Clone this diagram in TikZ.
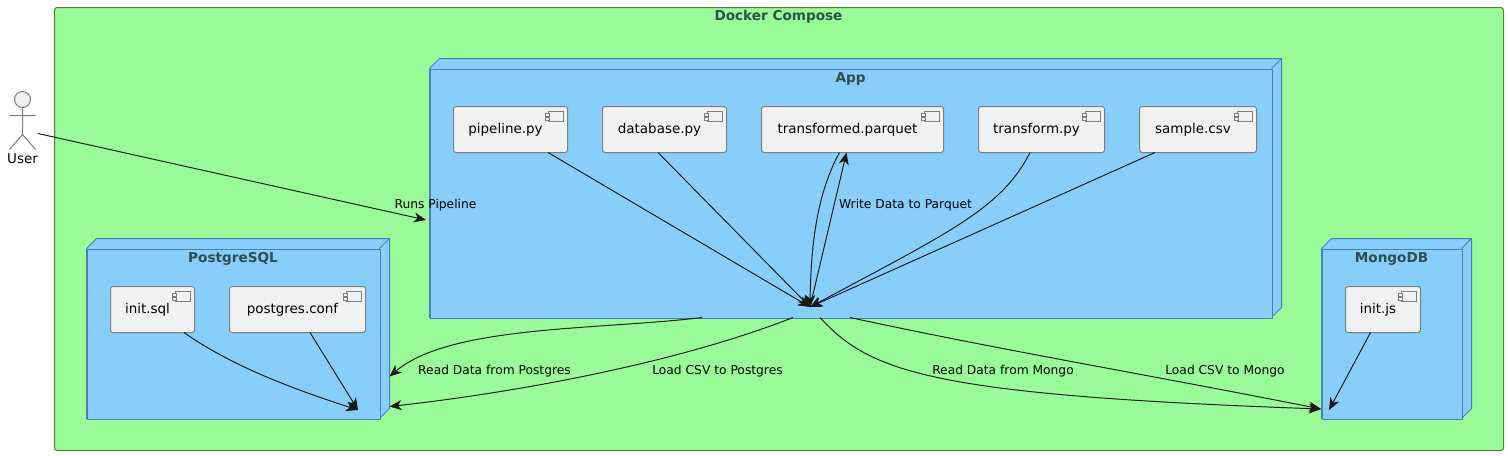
\documentclass[tikz,border=0pt]{standalone}
\usepackage{fontspec}
\setmainfont{DejaVu Sans}
\usetikzlibrary{arrows.meta}
\definecolor{framegreen}{HTML}{98FB98}
\definecolor{frameline}{HTML}{5B7A35}
\definecolor{nodeblue}{HTML}{87CEFA}
\definecolor{nodeline}{HTML}{4A7FBE}
\definecolor{titlecol}{HTML}{2F4F4F}
\definecolor{compfill}{HTML}{F1F1F1}
\definecolor{compline}{HTML}{7F7F7F}
\definecolor{edgecol}{HTML}{181818}
\newlength{\pxu}\setlength{\pxu}{0.75pt}
\tikzset{
  x=0.75pt,y=-0.75pt,
  titletext/.style={text=titlecol,font=\fontsize{10.2}{12}\bfseries\selectfont,inner sep=0pt},
  comptext/.style={font=\fontsize{10.1}{12}\selectfont},
  edgelabel/.style={text=black,font=\fontsize{9.2}{11}\selectfont,inner sep=0pt},
  compbox/.style={draw=compline,fill=compfill,line width=0.75pt,rounded corners=1.9pt,inner sep=0pt,minimum height=34.5pt,comptext,text=black},
  compicon/.style={draw=compline,fill=compfill,line width=0.6pt},
  nodeface/.style={draw=nodeline,fill=nodeblue,line width=0.75pt,line join=round},
  flow/.style={draw=edgecol,line width=0.72pt,-{Stealth[length=9pt,width=7.5pt,inset=2.6pt]}},
  actorline/.style={draw=compline,line width=0.75pt}
}
% \cbox{name}{x1}{x2}{label}
\newcommand{\cbox}[4]{%
  \pgfmathsetmacro{\cw}{(#3-#2)*0.75}%
  \node[compbox,minimum width=\cw pt] (#1) at ({(#2+#3)/2},129.5) {\raisebox{-3.2pt}{#4\kern 7.5pt}};
  \compglyph{#3}{106.7}}
\newcommand{\cboxlow}[4]{%
  \pgfmathsetmacro{\cw}{(#3-#2)*0.75}%
  \node[compbox,minimum width=\cw pt] (#1) at ({(#2+#3)/2},309.5) {\raisebox{-3.2pt}{#4\kern 7.5pt}};
  \compglyph{#3}{286.7}}
\newcommand{\compglyph}[2]{%
  \draw[compicon] ({#1-19.5},{#2+5}) rectangle ({#1-4.5},{#2+15});
  \draw[compicon] ({#1-22},{#2+7}) rectangle ({#1-18},{#2+9.5});
  \draw[compicon] ({#1-22},{#2+11}) rectangle ({#1-18},{#2+13.5});}
% \depnode{name}{x1}{y1}{x2}{y2}
\newcommand{\depnode}[5]{%
  \path[nodeface] (#2,#3) -- ({#2+10},{#3-10}) -- ({#4+10},{#3-10}) -- ({#4+10},{#5-10}) -- (#4,#5) -- (#2,#5) -- cycle;
  \draw[nodeline,line width=0.75pt,line join=round] (#4,#3) -- ({#4+10},{#3-10});
  \node[nodeface,anchor=north west,inner sep=0pt,minimum width={(#4-#2)*0.75pt},minimum height={(#5-#3)*0.75pt}] (#1) at (#2,#3) {};}
\begin{document}
\begin{tikzpicture}
\useasboundingbox (0,0) rectangle (1508,455);
\fill[white] (0,0) rectangle (1508,455);
% frame
\draw[fill=framegreen,draw=frameline,line width=0.75pt,rounded corners=1.9pt] (54.5,7.5) rectangle (1503.5,450.5);
\node[titletext] (composetitle) at (778.5,17) {Docker Compose};
% deployment nodes
\depnode{app}{429.5}{68.5}{1271.5}{317.5}
\node[titletext] (apptitle) at (850.5,79) {App};
\depnode{pg}{86.5}{248.5}{379.5}{418.5}
\node[titletext] (pgtitle) at (233,259) {PostgreSQL};
\depnode{mongo}{1321.5}{248.5}{1461.5}{418.5}
\node[titletext] (mongotitle) at (1391.5,259) {MongoDB};
% components
\cbox{pipeline}{453.5}{567.5}{pipeline.py}
\cbox{database}{602.5}{726.5}{database.py}
\cbox{parquet}{761.5}{943.5}{transformed.parquet}
\cbox{transform}{978.5}{1104.5}{transform.py}
\cbox{sample}{1139.5}{1256.5}{sample.csv}
\cboxlow{initsql}{110.5}{194.5}{init.sql}
\cboxlow{pgconf}{229.5}{365.5}{postgres.conf}
\cboxlow{initjs}{1345.5}{1420.5}{init.js}
% actor
\coordinate (actorhead) at (22.5,99.5);
\draw[actorline,fill=compfill] (actorhead) circle[radius=8];
\draw[actorline] (22.5,107.5) -- (22.5,134.5) (9.5,115.5) -- (35.5,115.5) (9.5,149.5) -- (22.5,134.5) -- (35.5,149.5);
\node[comptext,inner sep=0pt] (user) at (22.5,159) {User};
% connector end points
\coordinate (actorout) at (38,133.5);
\coordinate (appin) at (426,220);
\coordinate (hub) at (810,307);
\coordinate (pgread) at (389.5,376.5);
\coordinate (pgload) at (389.5,406.5);
\coordinate (pgsink) at (358,410);
\coordinate (mongoin) at (1321,409);
\coordinate (mongosink) at (1329,410);
% connectors
\draw[flow] (actorout) -- (appin);
\draw[flow] (548,152.5) -- (hub);
\draw[flow] (658,152.5) -- (hub);
\draw[flow] (839.5,152.5) .. controls (818,192) and (811,240) .. (hub);
\draw[flow] (hub) -- (846.5,152.5);
\draw[flow] (1030,152.5) .. controls (1002,208) and (950,232) .. (hub);
\draw[flow] (1155,152.5) -- (hub);
\draw[flow] (702,317.5) .. controls (600,330) and (450,325) .. (pgread);
\draw[flow] (793,317.5) .. controls (680,362) and (520,392) .. (pgload);
\draw[flow] (820,317.5) .. controls (870,372) and (930,395) .. (mongoin);
\draw[flow] (850,317.5) .. controls (1000,350) and (1150,375) .. (mongoin);
\draw[flow] (184,332.5) .. controls (230,365) and (290,388) .. (pgsink);
\draw[flow] (310,332.5) -- (pgsink);
\draw[flow] (1370.5,332.5) -- (mongosink);
% labels
\node[edgelabel] (lruns) at (435.5,205.5) {Runs Pipeline};
\node[edgelabel] (lwrite) at (905.5,205.5) {Write Data to Parquet};
\node[edgelabel] (lpgread) at (494.5,371.5) {Read Data from Postgres};
\node[edgelabel] (lpgload) at (717.5,371.5) {Load CSV to Postgres};
\node[edgelabel] (lmread) at (1003,371.5) {Read Data from Mongo};
\node[edgelabel] (lmload) at (1225,371.5) {Load CSV to Mongo};
\end{tikzpicture}
\end{document}
